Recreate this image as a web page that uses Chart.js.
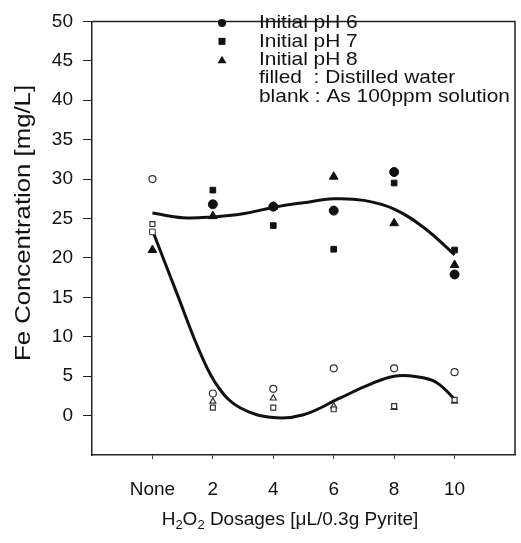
<!DOCTYPE html>
<html>
<head>
<meta charset="utf-8">
<title>Fe concentration vs H2O2 dosage</title>
<script src="https://cdn.jsdelivr.net/npm/chart.js@4"></script>
<style>
  html, body { margin: 0; padding: 0; background: #fff; }
  #chart { display: block; }
</style>
</head>
<body>
<canvas id="chart" width="521" height="543"></canvas>
<script>
const categories = ["None", "2", "4", "6", "8", "10"];
const yTicks = [0, 5, 10, 15, 20, 25, 30, 35, 40, 45, 50];

// distilled water (filled markers)
const ph6Filled = [null, 26.8, 26.5, 26.0, 30.9, 17.9];
const ph7Filled = [23.3, 28.6, 24.1, 21.1, 29.5, 21.0];
const ph8Filled = [21.0, 25.3, 26.5, 30.3, 24.4, 19.1];

// As 100ppm solution (blank markers)
const ph6Blank = [30.0, 2.8, 3.4, 6.0, 6.0, 5.5];
const ph7Blank = [24.3, 1.0, 1.0, 0.8, 1.2, 2.0];
const ph8Blank = [null, 1.8, 2.2, 1.2, 1.0, 1.8];

// fitted trend curves
const upperFitX = [0, 0.5, 1, 1.5, 2, 2.5, 3, 3.5, 4, 4.5, 5];
const upperFitY = [25.7, 25.1, 25.2, 25.6, 26.4, 27.0, 27.5, 27.3, 26.2, 23.8, 20.4];
const lowerFitX = [0, 0.4, 0.8, 1.1, 1.45, 2, 2.5, 3.1, 3.55, 4, 4.4, 4.7, 5];
const lowerFitY = [23.5, 15.6, 7.8, 3.5, 1.0, -0.25, 0.1, 2.2, 3.8, 5.0, 4.9, 4.2, 2.1];

const legendRows = [
	{ style: "circle", text: "Initial pH 6" },
	{ style: "rect", text: "Initial pH 7" },
	{ style: "triangle", text: "Initial pH 8" },
	{ style: null, text: "filled  : Distilled water" },
	{ style: null, text: "blank : As 100ppm solution" },
];

const FONT = "'Liberation Sans', Arial, sans-serif";
const INK = "#111";

const toPoints = (values) => values.map((y, i) => ({ x: i, y: y })).filter((p) => p.y !== null);
const toCurve = (xs, ys) => xs.map((x, i) => ({ x: x, y: ys[i] }));

const filledSet = (label, values, style, radius) => ({
	label: label,
	data: toPoints(values),
	pointStyle: style,
	pointRadius: radius,
	backgroundColor: INK,
	borderColor: INK,
	borderWidth: 1,
	showLine: false,
});

const blankSet = (label, values, style, radius) => ({
	label: label,
	data: toPoints(values),
	pointStyle: style,
	pointRadius: radius,
	backgroundColor: "#fff",
	borderColor: "#333",
	borderWidth: 1.2,
	showLine: false,
});

const curveSet = (label, xs, ys) => ({
	label: label,
	data: toCurve(xs, ys),
	showLine: true,
	pointRadius: 0,
	borderColor: INK,
	borderWidth: 3,
	tension: 0.4,
	order: 10,
});

// the None column pH 7 square sits hollow
const ph7FilledSet = filledSet("pH 7 distilled", ph7Filled, "rect", 4);
ph7FilledSet.backgroundColor = (ctx) => (ctx.raw && ctx.raw.x === 0 ? "#fff" : INK);
ph7FilledSet.borderColor = (ctx) => (ctx.raw && ctx.raw.x === 0 ? "#333" : INK);

const framePlugin = {
	id: "frame",
	afterDraw(chart) {
		const { ctx, chartArea } = chart;
		ctx.save();
		ctx.strokeStyle = "#222";
		ctx.lineWidth = 1.5;
		ctx.beginPath();
		ctx.moveTo(chartArea.left, chartArea.top);
		ctx.lineTo(chartArea.right, chartArea.top);
		ctx.lineTo(chartArea.right, chartArea.bottom);
		ctx.stroke();
		ctx.restore();
	},
};

// wide-set text: draw with a horizontal stretch
const wideText = (ctx, text, x, y, stretch) => {
	ctx.save();
	ctx.translate(x, y);
	ctx.scale(stretch, 1);
	ctx.fillText(text, 0, 0);
	ctx.restore();
};

const legendPlugin = {
	id: "insideLegend",
	afterDraw(chart) {
		const { ctx } = chart;
		const markerX = 222;
		const textX = 259;
		const firstRow = 23;
		const rowGap = 18.4;
		ctx.save();
		ctx.fillStyle = INK;
		ctx.font = "19px " + FONT;
		ctx.textBaseline = "middle";
		legendRows.forEach((row, i) => {
			const y = firstRow + i * rowGap;
			if (row.style === "circle") {
				ctx.beginPath();
				ctx.arc(markerX, y, 4, 0, Math.PI * 2);
				ctx.fill();
			} else if (row.style === "rect") {
				ctx.fillRect(markerX - 3.5, y - 3.5, 7, 7);
			} else if (row.style === "triangle") {
				ctx.beginPath();
				ctx.moveTo(markerX, y - 4);
				ctx.lineTo(markerX + 4.5, y + 3.5);
				ctx.lineTo(markerX - 4.5, y + 3.5);
				ctx.closePath();
				ctx.fill();
			}
			wideText(ctx, row.text, textX, y, 1.1);
		});
		ctx.restore();
	},
};

// axis titles: y rotated, x with subscripted digits
const titlesPlugin = {
	id: "axisTitles",
	afterDraw(chart) {
		const { ctx } = chart;
		ctx.save();
		ctx.fillStyle = INK;
		ctx.font = "22px " + FONT;
		ctx.textAlign = "center";
		ctx.textBaseline = "middle";
		ctx.translate(24, 223);
		ctx.rotate(-Math.PI / 2);
		ctx.scale(1.17, 1);
		ctx.fillText("Fe Concentration [mg/L]", 0, 0);
		ctx.restore();

		const parts = [
			{ t: "H", sub: false },
			{ t: "2", sub: true },
			{ t: "O", sub: false },
			{ t: "2", sub: true },
			{ t: " Dosages [\u03BCL/0.3g Pyrite]", sub: false },
		];
		const big = "19px " + FONT;
		const small = "13px " + FONT;
		ctx.save();
		ctx.fillStyle = INK;
		ctx.textBaseline = "alphabetic";
		let total = 0;
		parts.forEach((p) => {
			ctx.font = p.sub ? small : big;
			total += ctx.measureText(p.t).width;
		});
		let x = 290 - total / 2;
		const base = 525;
		parts.forEach((p) => {
			ctx.font = p.sub ? small : big;
			ctx.fillText(p.t, x, p.sub ? base + 4 : base);
			x += ctx.measureText(p.t).width;
		});
		ctx.restore();
	},
};

new Chart(document.getElementById("chart"), {
	type: "scatter",
	data: {
		datasets: [
			curveSet("upper fit", upperFitX, upperFitY),
			curveSet("lower fit", lowerFitX, lowerFitY),
			filledSet("pH 6 distilled", ph6Filled, "circle", 4.5),
			ph7FilledSet,
			filledSet("pH 8 distilled", ph8Filled, "triangle", 5),
			blankSet("pH 6 100ppm", ph6Blank, "circle", 3.5),
			blankSet("pH 7 100ppm", ph7Blank, "rect", 3.5),
			blankSet("pH 8 100ppm", ph8Blank, "triangle", 3.5),
		],
	},
	options: {
		responsive: false,
		animation: false,
		devicePixelRatio: 1,
		layout: { padding: { top: 15, right: 5, left: 0, bottom: 0 } },
		plugins: {
			legend: { display: false },
			tooltip: { enabled: false },
		},
		scales: {
			x: {
				type: "linear",
				min: -1,
				max: 6,
				afterBuildTicks: (axis) => {
					axis.ticks = categories.map((_, i) => ({ value: i }));
				},
				afterFit: (axis) => {
					axis.height = 88;
				},
				ticks: {
					callback: (value) => categories[value],
					font: { family: FONT, size: 19 },
					color: INK,
					padding: 19,
					maxRotation: 0,
				},
				grid: { drawOnChartArea: false, tickLength: 4, color: "#444" },
				border: { color: "#222", width: 1.5 },
			},
			y: {
				min: -5,
				max: 50,
				afterBuildTicks: (axis) => {
					axis.ticks = yTicks.map((v) => ({ value: v }));
				},
				afterFit: (axis) => {
					axis.width = 92;
				},
				ticks: {
					font: { family: FONT, size: 19 },
					color: INK,
					padding: 10,
				},
				grid: { drawOnChartArea: false, tickLength: 9, color: "#222" },
				border: { color: "#222", width: 1.5 },
			},
		},
	},
	plugins: [framePlugin, legendPlugin, titlesPlugin],
});
</script>
</body>
</html>
